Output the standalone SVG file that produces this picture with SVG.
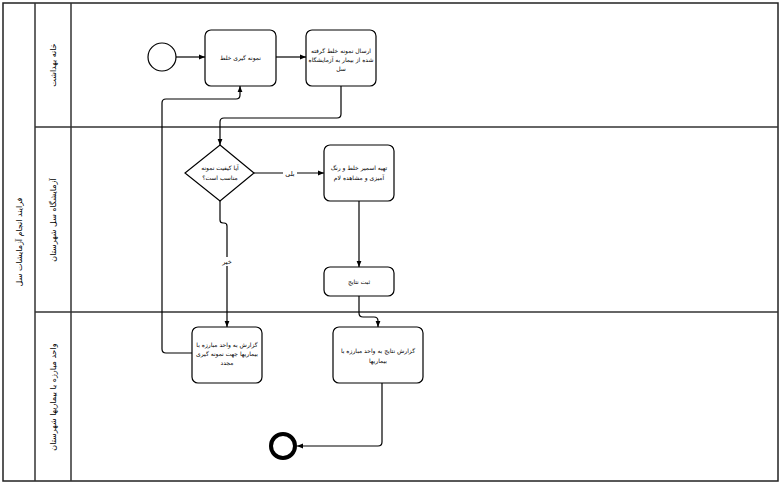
<svg xmlns="http://www.w3.org/2000/svg" width="782" height="485" viewBox="0 0 782 485">
<style>
.pool{fill:#fff;stroke:#222;stroke-width:1.5}
.div{stroke:#333;stroke-width:1.5;fill:none}
.task{fill:#fff;stroke:#000;stroke-width:1.2}
.edge{fill:none;stroke:#000;stroke-width:1.2}
.t{font-family:"DejaVu Sans",sans-serif;font-size:6px;fill:#000;text-anchor:middle;direction:rtl}
.lt{font-family:"DejaVu Sans",sans-serif;font-size:8px;fill:#000;text-anchor:middle;direction:rtl}
.lbl{font-family:"DejaVu Sans",sans-serif;font-size:6.5px;fill:#000;text-anchor:middle;direction:rtl}
</style>
<defs>
<marker id="arr" viewBox="0 0 10 10" refX="10" refY="5" markerWidth="6" markerHeight="6" orient="auto" markerUnits="userSpaceOnUse">
<path d="M0,1 L10,5 L0,9 Z" fill="#000"/>
</marker>
</defs>
<rect width="782" height="485" fill="#fff"/>
<g id="pool">
<rect class="pool" x="3" y="3" width="775" height="478"/>
<line class="div" x1="35" y1="3" x2="35" y2="481"/>
<line class="div" x1="71" y1="3" x2="71" y2="481"/>
<line class="div" x1="35" y1="127" x2="778" y2="127"/>
<line class="div" x1="35" y1="312" x2="778" y2="312"/>
<text class="lt" transform="translate(22,242) rotate(-90)">فرایند انجام آزمایشات سل</text>
</g>
<g id="lane1"><text class="lt" transform="translate(56,65) rotate(-90)">خانه بهداشت</text></g>
<g id="lane2"><text class="lt" transform="translate(56,220) rotate(-90)">آزمایشگاه سل شهرستان</text></g>
<g id="lane3"><text class="lt" transform="translate(56,397) rotate(-90)">واحد مبارزه با بیماریها شهرستان</text></g>

<g id="connectors">
<path class="edge" d="M176,57 H205" marker-end="url(#arr)"/>
<path class="edge" d="M276,57 H306" marker-end="url(#arr)"/>
<path class="edge" d="M341,86 V114 Q341,118 337,118 H224 Q220,118 220,122 V145" marker-end="url(#arr)"/>
<path class="edge" d="M254,173 H324" marker-end="url(#arr)"/>
<path class="edge" d="M359,201 V267" marker-end="url(#arr)"/>
<path class="edge" d="M220,201 V220 Q220,223 223,223 H224 Q227,223 227,226 V327" marker-end="url(#arr)"/>
<path class="edge" d="M359,296 V313 Q359,317 363,317 H374 Q378,317 378,321 V327" marker-end="url(#arr)"/>
<path class="edge" d="M382,383 V442 Q382,446 378,446 H297" marker-end="url(#arr)"/>
<path class="edge" d="M192,353 H166 Q162,353 162,349 V103 Q162,99 166,99 H236 Q240,99 240,95 V86" marker-end="url(#arr)"/>
<rect x="283" y="169" width="14" height="9" fill="#fff"/>
<text class="lbl" x="290" y="176">بلی</text>
<rect x="220" y="257" width="14" height="9" fill="#fff"/>
<text class="lbl" x="227" y="264">خیر</text>
</g>

<g id="start"><circle cx="162" cy="57" r="14" fill="#fff" stroke="#000" stroke-width="1.2"/></g>
<g id="task1">
<rect class="task" x="205" y="30" width="71" height="56" rx="6"/>
<text class="t" x="240.5" y="59.5">نمونه گیری خلط</text>
</g>
<g id="task2">
<rect class="task" x="306" y="30" width="70" height="56" rx="6"/>
<text class="t" x="341" y="52.5">ارسال نمونه خلط گرفته</text>
<text class="t" x="341" y="61.5">شده از بیمار به آزمایشگاه</text>
<text class="t" x="341" y="70.5">سل</text>
</g>
<g id="gateway">
<polygon points="220,145 254,173 220,201 185,173" fill="#fff" stroke="#000" stroke-width="1.2"/>
<text class="t" x="220" y="170">آیا کیفیت نمونه</text>
<text class="t" x="220" y="180">مناسب است؟</text>
</g>
<g id="task3">
<rect class="task" x="324" y="145" width="70" height="56" rx="6"/>
<text class="t" x="359" y="169.5">تهیه اسمیر خلط و رنگ</text>
<text class="t" x="359" y="179.5">آمیزی و مشاهده لام</text>
</g>
<g id="task4">
<rect class="task" x="324" y="267" width="70" height="29" rx="6"/>
<text class="t" x="359" y="284">ثبت نتایج</text>
</g>
<g id="task5">
<rect class="task" x="192" y="327" width="70" height="56" rx="6"/>
<text class="t" x="227" y="346.5">گزارش به واحد مبارزه با</text>
<text class="t" x="227" y="355.5">بیماریها جهت نمونه گیری</text>
<text class="t" x="227" y="365">مجدد</text>
</g>
<g id="task6">
<rect class="task" x="333" y="327" width="90" height="56" rx="6"/>
<text class="t" x="378" y="352.5">گزارش نتایج به واحد مبارزه با</text>
<text class="t" x="378" y="362.5">بیماریها</text>
</g>
<g id="end"><circle cx="283" cy="446" r="12" fill="#fff" stroke="#000" stroke-width="4"/></g>
</svg>
